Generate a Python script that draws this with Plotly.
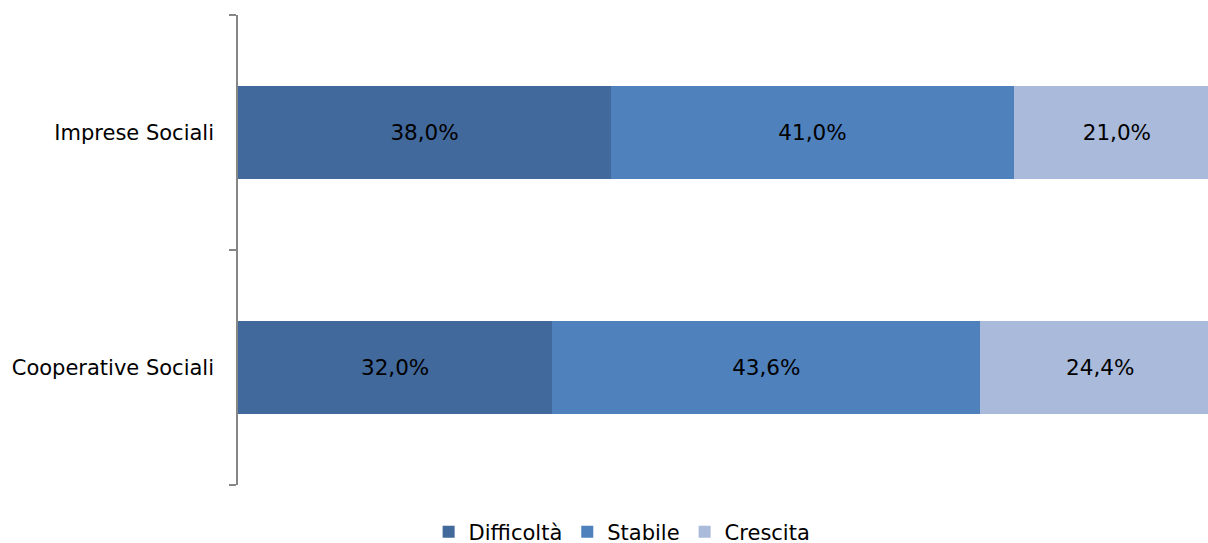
import plotly.graph_objects as go

categories = ["Cooperative Sociali", "Imprese Sociali"]
series_names = ["Difficoltà", "Stabile", "Crescita"]
difficolta = [32.0, 38.0]
stabile = [43.6, 41.0]
crescita = [24.4, 21.0]
colors = ["#41699B", "#4F81BD", "#AABADA"]

FONT = "DejaVu Sans"

def fmt(v):
    return f"{v:.1f}%".replace(".", ",")

fig = go.Figure()
for name, vals, col in zip(series_names, [difficolta, stabile, crescita], colors):
    fig.add_trace(go.Bar(
        y=categories, x=vals, name=name, orientation="h",
        marker=dict(color=col, line=dict(width=0)),
        text=[fmt(v) for v in vals], textposition="inside",
        insidetextanchor="middle",
        textfont=dict(family=FONT, size=21.5, color="black"),
        hoverinfo="skip",
    ))

fig.update_layout(
    barmode="stack",
    bargap=0.605,
    width=1208, height=543,
    margin=dict(l=238, r=0, t=15, b=58, autoexpand=False),
    paper_bgcolor="white", plot_bgcolor="white",
    font=dict(family=FONT, size=21, color="black"),
    uniformtext=dict(minsize=21, mode="show"),
    showlegend=True,
    legend=dict(orientation="h", xref="container", yref="container",
                x=0.515, xanchor="center", y=0.02, yanchor="middle",
                traceorder="normal",
                font=dict(family=FONT, size=21, color="black"),
                itemwidth=30, tracegroupgap=0),
)
# the reference plot area is slightly wider than the visible canvas (cropped at the right)
fig.update_xaxes(range=[0, 98.78], visible=False, showgrid=False, zeroline=False)
fig.update_yaxes(type="category", range=[-0.5, 1.5], showline=True, linecolor="#868686",
                 linewidth=1.5, ticks="outside", ticklen=7, tickcolor="#868686",
                 tickwidth=1.5, tickson="boundaries", showgrid=False,
                 ticklabelstandoff=18,
                 tickfont=dict(family=FONT, size=21, color="black"))

fig.write_html("out.html", config={"displayModeBar": False},
               post_script="document.body.style.margin='0';")
